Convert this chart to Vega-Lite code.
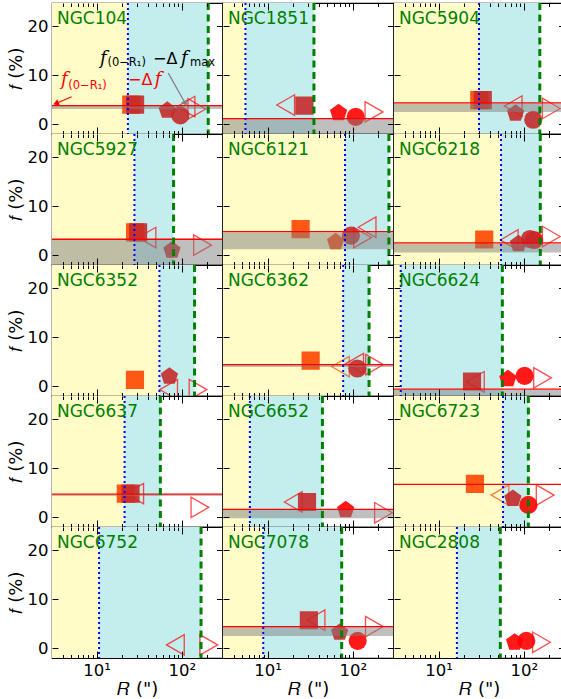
{
  "$schema": "https://vega.github.io/schema/vega-lite/v6.json",
  "background": "white",
  "padding": {"left": 6, "top": 0, "right": 0, "bottom": 0},
  "spacing": 0,
  "bounds": "flush",
  "columns": 3,
  "config": {
    "view": {"stroke": "#000000", "strokeWidth": 1.2},
    "axis": {"domain": false, "ticks": false, "grid": true, "gridColor": "#000000", "gridWidth": 1, "gridOpacity": 1, "labelFont": "DejaVu Sans", "labelFontSize": 16.5, "labelColor": "#000000", "labelPadding": 4, "titleFont": "DejaVu Sans", "titleFontSize": 18, "titleFontWeight": "normal", "titleColor": "#000000", "titlePadding": 2}
  },
  "datasets": {
    "zones": [
      {"cluster": "NGC104", "zone": "inner", "lo": 3, "hi": 23.3}, {"cluster": "NGC104", "zone": "outer", "lo": 23.3, "hi": 204},
      {"cluster": "NGC1851", "zone": "inner", "lo": 3, "hi": 5.5}, {"cluster": "NGC1851", "zone": "outer", "lo": 5.5, "hi": 35},
      {"cluster": "NGC5904", "zone": "inner", "lo": 3, "hi": 29.8}, {"cluster": "NGC5904", "zone": "outer", "lo": 29.8, "hi": 154},
      {"cluster": "NGC5927", "zone": "inner", "lo": 3, "hi": 27.8}, {"cluster": "NGC5927", "zone": "outer", "lo": 27.8, "hi": 80},
      {"cluster": "NGC6121", "zone": "inner", "lo": 3, "hi": 81}, {"cluster": "NGC6121", "zone": "outer", "lo": 81, "hi": 265},
      {"cluster": "NGC6218", "zone": "inner", "lo": 3, "hi": 54}, {"cluster": "NGC6218", "zone": "outer", "lo": 54, "hi": 156},
      {"cluster": "NGC6352", "zone": "inner", "lo": 3, "hi": 54.6}, {"cluster": "NGC6352", "zone": "outer", "lo": 54.6, "hi": 141},
      {"cluster": "NGC6362", "zone": "inner", "lo": 3, "hi": 77}, {"cluster": "NGC6362", "zone": "outer", "lo": 77, "hi": 155},
      {"cluster": "NGC6624", "zone": "inner", "lo": 3, "hi": 3.6}, {"cluster": "NGC6624", "zone": "outer", "lo": 3.6, "hi": 56},
      {"cluster": "NGC6637", "zone": "inner", "lo": 3, "hi": 21.3}, {"cluster": "NGC6637", "zone": "outer", "lo": 21.3, "hi": 56},
      {"cluster": "NGC6652", "zone": "inner", "lo": 3, "hi": 6.2}, {"cluster": "NGC6652", "zone": "outer", "lo": 6.2, "hi": 44},
      {"cluster": "NGC6723", "zone": "inner", "lo": 3, "hi": 57}, {"cluster": "NGC6723", "zone": "outer", "lo": 57, "hi": 113},
      {"cluster": "NGC6752", "zone": "inner", "lo": 3, "hi": 10.7}, {"cluster": "NGC6752", "zone": "outer", "lo": 10.7, "hi": 168},
      {"cluster": "NGC7078", "zone": "inner", "lo": 3, "hi": 8.9}, {"cluster": "NGC7078", "zone": "outer", "lo": 8.9, "hi": 74},
      {"cluster": "NGC2808", "zone": "inner", "lo": 3, "hi": 16.4}, {"cluster": "NGC2808", "zone": "outer", "lo": 16.4, "hi": 53}
    ],
    "levels": [
      {"cluster": "NGC104", "level": 3.8, "lo": 3.1, "hi": 3.75},
      {"cluster": "NGC1851", "level": 1.15, "lo": -2, "hi": 1.1},
      {"cluster": "NGC5904", "level": 4.35, "lo": 2.5, "hi": 4.2},
      {"cluster": "NGC5927", "level": 3.25, "lo": -2, "hi": 3.15},
      {"cluster": "NGC6121", "level": 4.8, "lo": 1.2, "hi": 4.6},
      {"cluster": "NGC6218", "level": 2.5, "lo": 0.55, "hi": 2.4},
      {"cluster": "NGC6362", "level": 4.4, "lo": 3.9, "hi": 4.3},
      {"cluster": "NGC6624", "level": -0.6, "lo": -2, "hi": -0.75},
      {"cluster": "NGC6637", "level": 4.7, "lo": 4.3, "hi": 4.6},
      {"cluster": "NGC6652", "level": 1.6, "lo": -0.2, "hi": 1.5},
      {"cluster": "NGC6723", "level": 6.7, "lo": null, "hi": null},
      {"cluster": "NGC7078", "level": 4.4, "lo": 2.5, "hi": 4.3}
    ],
    "marks": [
      {"cluster": "NGC104", "bin": "tl", "set": "C", "R": 112, "f": 3.6},
      {"cluster": "NGC104", "bin": "tr", "set": "C", "R": 150, "f": 3.1},
      {"cluster": "NGC104", "bin": "sq", "set": "A", "R": 25.5, "f": 4.0},
      {"cluster": "NGC104", "bin": "sq", "set": "B", "R": 28.3, "f": 4.0},
      {"cluster": "NGC104", "bin": "pent", "set": "B", "R": 67.5, "f": 2.8},
      {"cluster": "NGC104", "bin": "circ", "set": "B", "R": 96, "f": 1.8},
      {"cluster": "NGC1851", "bin": "tl", "set": "C", "R": 16.3, "f": 3.9},
      {"cluster": "NGC1851", "bin": "tr", "set": "C", "R": 177, "f": 2.5},
      {"cluster": "NGC1851", "bin": "sq", "set": "B", "R": 27, "f": 3.8},
      {"cluster": "NGC1851", "bin": "pent", "set": "C", "R": 68, "f": 2.3},
      {"cluster": "NGC1851", "bin": "circ", "set": "C", "R": 108, "f": 1.5},
      {"cluster": "NGC5904", "bin": "tl", "set": "C", "R": 75, "f": 3.7},
      {"cluster": "NGC5904", "bin": "tr", "set": "C", "R": 210, "f": 3.2},
      {"cluster": "NGC5904", "bin": "sq", "set": "A", "R": 30, "f": 4.9},
      {"cluster": "NGC5904", "bin": "sq", "set": "B", "R": 33, "f": 4.9},
      {"cluster": "NGC5904", "bin": "pent", "set": "B", "R": 80, "f": 2.2},
      {"cluster": "NGC5904", "bin": "circ", "set": "B", "R": 129, "f": 0.9},
      {"cluster": "NGC5927", "bin": "tl", "set": "C", "R": 39, "f": 3.6},
      {"cluster": "NGC5927", "bin": "tr", "set": "C", "R": 175, "f": 2.05},
      {"cluster": "NGC5927", "bin": "sq", "set": "A", "R": 28.3, "f": 4.65},
      {"cluster": "NGC5927", "bin": "sq", "set": "B", "R": 30.7, "f": 4.65},
      {"cluster": "NGC5927", "bin": "pent", "set": "B", "R": 76.6, "f": 1.0},
      {"cluster": "NGC6121", "bin": "tl", "set": "C", "R": 147, "f": 5.7},
      {"cluster": "NGC6121", "bin": "tr", "set": "C", "R": 130, "f": 3.6},
      {"cluster": "NGC6121", "bin": "sq", "set": "A", "R": 24.4, "f": 5.3},
      {"cluster": "NGC6121", "bin": "pent", "set": "A", "R": 62.7, "f": 2.7},
      {"cluster": "NGC6121", "bin": "circ", "set": "B", "R": 95, "f": 4.0},
      {"cluster": "NGC6218", "bin": "tl", "set": "C", "R": 67.5, "f": 3.1},
      {"cluster": "NGC6218", "bin": "tr", "set": "C", "R": 210, "f": 3.8},
      {"cluster": "NGC6218", "bin": "sq", "set": "A", "R": 34.3, "f": 3.2},
      {"cluster": "NGC6218", "bin": "circ", "set": "C", "R": 132, "f": 3.1},
      {"cluster": "NGC6218", "bin": "pent", "set": "B", "R": 86.5, "f": 2.3},
      {"cluster": "NGC6218", "bin": "circ", "set": "B", "R": 118, "f": 3.3},
      {"cluster": "NGC6352", "bin": "tl", "set": "C", "R": 70, "f": -0.7},
      {"cluster": "NGC6352", "bin": "tr", "set": "C", "R": 155, "f": -0.7},
      {"cluster": "NGC6352", "bin": "sq", "set": "A", "R": 28.2, "f": 1.3},
      {"cluster": "NGC6352", "bin": "pent", "set": "B", "R": 71.5, "f": 2.0},
      {"cluster": "NGC6362", "bin": "tl", "set": "A", "R": 71.5, "f": 4.0},
      {"cluster": "NGC6362", "bin": "tl", "set": "C", "R": 105, "f": 4.6},
      {"cluster": "NGC6362", "bin": "tr", "set": "C", "R": 180, "f": 4.4},
      {"cluster": "NGC6362", "bin": "sq", "set": "A", "R": 32, "f": 5.2},
      {"cluster": "NGC6362", "bin": "circ", "set": "B", "R": 113, "f": 3.6},
      {"cluster": "NGC6624", "bin": "tl", "set": "C", "R": 27, "f": 0.9},
      {"cluster": "NGC6624", "bin": "tr", "set": "C", "R": 166, "f": 1.7},
      {"cluster": "NGC6624", "bin": "sq", "set": "B", "R": 24.7, "f": 0.95},
      {"cluster": "NGC6624", "bin": "pent", "set": "C", "R": 65, "f": 1.5},
      {"cluster": "NGC6624", "bin": "circ", "set": "C", "R": 102, "f": 2.1},
      {"cluster": "NGC6637", "bin": "tl", "set": "C", "R": 28, "f": 4.8},
      {"cluster": "NGC6637", "bin": "tr", "set": "C", "R": 163, "f": 2.0},
      {"cluster": "NGC6637", "bin": "sq", "set": "A", "R": 22, "f": 4.8},
      {"cluster": "NGC6637", "bin": "sq", "set": "B", "R": 25, "f": 4.8},
      {"cluster": "NGC6652", "bin": "tl", "set": "C", "R": 20, "f": 3.1},
      {"cluster": "NGC6652", "bin": "tr", "set": "C", "R": 229, "f": 0.9},
      {"cluster": "NGC6652", "bin": "sq", "set": "B", "R": 29, "f": 3.1},
      {"cluster": "NGC6652", "bin": "pent", "set": "C", "R": 82.5, "f": 1.5},
      {"cluster": "NGC6723", "bin": "tl", "set": "A", "R": 52.5, "f": 4.5},
      {"cluster": "NGC6723", "bin": "tr", "set": "C", "R": 178, "f": 4.5},
      {"cluster": "NGC6723", "bin": "sq", "set": "A", "R": 26.7, "f": 6.8},
      {"cluster": "NGC6723", "bin": "pent", "set": "B", "R": 74.4, "f": 3.8},
      {"cluster": "NGC6723", "bin": "circ", "set": "C", "R": 113, "f": 2.5},
      {"cluster": "NGC6752", "bin": "tl", "set": "C", "R": 84, "f": 0.67},
      {"cluster": "NGC6752", "bin": "tr", "set": "C", "R": 207, "f": 0.67},
      {"cluster": "NGC7078", "bin": "tl", "set": "C", "R": 37, "f": 5.7},
      {"cluster": "NGC7078", "bin": "tr", "set": "C", "R": 179, "f": 4.4},
      {"cluster": "NGC7078", "bin": "sq", "set": "B", "R": 30.5, "f": 5.7},
      {"cluster": "NGC7078", "bin": "pent", "set": "B", "R": 70, "f": 3.2},
      {"cluster": "NGC7078", "bin": "circ", "set": "C", "R": 114, "f": 1.5},
      {"cluster": "NGC2808", "bin": "tr", "set": "C", "R": 161, "f": 1.2},
      {"cluster": "NGC2808", "bin": "pent", "set": "C", "R": 78, "f": 1.2},
      {"cluster": "NGC2808", "bin": "circ", "set": "C", "R": 107, "f": 1.5}
    ],
    "notes": [
      {"tone": "dark", "part": "it", "R": 11.0, "f": 12.3, "text": "f"},
      {"tone": "dark", "part": "sub", "R": 13.4, "f": 11.8, "text": "(0−R₁)"},
      {"tone": "dark", "part": "up", "R": 46, "f": 12.3, "text": "−Δ"},
      {"tone": "dark", "part": "it", "R": 98, "f": 12.3, "text": "f"},
      {"tone": "dark", "part": "sub", "R": 125, "f": 11.8, "text": "max"},
      {"tone": "red", "part": "it", "R": 3.83, "f": 7.9, "text": "f"},
      {"tone": "red", "part": "sub", "R": 4.65, "f": 7.1, "text": "(0−R₁)"},
      {"tone": "red", "part": "up", "R": 23.4, "f": 7.9, "text": "−Δ"},
      {"tone": "red", "part": "it", "R": 48, "f": 7.9, "text": "f"}
    ],
    "arrows": [
      {"tone": "dark", "R": 69.4, "f": 10.4, "R2": 110, "f2": 4.2},
      {"tone": "red", "R": 5.09, "f": 5.6, "R2": 3.34, "f2": 4.23}
    ]
  },
  "concat": [
    {"width": 170.5, "height": 131, "layer": [
      {"data": {"name": "zones"}, "transform": [{"filter": "datum.cluster == 'NGC104' && datum.zone == 'inner'"}], "mark": {"type": "rect", "fill": "#fffcc8", "clip": true}, "encoding": {"x": {"field": "lo", "type": "quantitative", "scale": {"type": "log", "domain": [3, 300], "nice": false}, "axis": {"values": [4,5,6,7,8,9,10,20,30,40,50,60,70,80,90,100,200], "gridDash": {"condition": {"test": "datum.value == 10 || datum.value == 100", "value": [7, 117, 7]}, "value": [3.5, 124, 3.5]}, "labels": false, "title": null, "zindex": 1}}, "x2": {"field": "hi"}}},
      {"data": {"name": "zones"}, "transform": [{"filter": "datum.cluster == 'NGC104' && datum.zone == 'outer'"}], "mark": {"type": "rect", "fill": "#c4eeee", "clip": true}, "encoding": {"x": {"field": "lo", "type": "quantitative", "scale": {"type": "log", "domain": [3, 300], "nice": false}}, "x2": {"field": "hi"}}},
      {"data": {"name": "marks"}, "transform": [{"filter": "datum.cluster == 'NGC104' && (datum.bin == 'tl' || datum.bin == 'tr')"}], "mark": {"type": "point", "filled": false, "size": 420, "strokeWidth": 1.3, "clip": true}, "encoding": {"x": {"field": "R", "type": "quantitative", "scale": {"type": "log", "domain": [3, 300], "nice": false}}, "y": {"field": "f", "type": "quantitative", "scale": {"domain": [-2, 24.7], "nice": false, "zero": false}}, "shape": {"field": "bin", "type": "nominal", "scale": {"domain": ["sq", "pent", "circ", "tl", "tr"], "range": ["square", "M0,-1L0.951,-0.309L0.588,0.809L-0.588,0.809L-0.951,-0.309Z", "circle", "triangle-left", "triangle-right"]}, "legend": null}, "color": {"field": "set", "type": "nominal", "scale": {"domain": ["A", "B", "C"], "range": ["#ff4500", "#c42a2a", "#ff0000"]}, "legend": null}}},
      {"data": {"name": "marks"}, "transform": [{"filter": "datum.cluster == 'NGC104' && datum.bin != 'tl' && datum.bin != 'tr'"}], "mark": {"type": "point", "filled": true, "size": 330, "opacity": 0.9, "strokeWidth": 0, "clip": true}, "encoding": {"x": {"field": "R", "type": "quantitative", "scale": {"type": "log", "domain": [3, 300], "nice": false}}, "y": {"field": "f", "type": "quantitative", "scale": {"domain": [-2, 24.7], "nice": false, "zero": false}, "axis": {"values": [0, 5, 10, 15, 20], "gridDash": [6, 158.5, 6], "title": "𝑓 (%)", "zindex": 1}}, "shape": {"field": "bin", "type": "nominal", "scale": {"domain": ["sq", "pent", "circ", "tl", "tr"], "range": ["square", "M0,-1L0.951,-0.309L0.588,0.809L-0.588,0.809L-0.951,-0.309Z", "circle", "triangle-left", "triangle-right"]}, "legend": null}, "color": {"field": "set", "type": "nominal", "scale": {"domain": ["A", "B", "C"], "range": ["#ff4500", "#c42a2a", "#ff0000"]}, "legend": null}}},
      {"data": {"name": "levels"}, "transform": [{"filter": "datum.cluster == 'NGC104' && isValid(datum.lo)"}], "mark": {"type": "rect", "fill": "#808080", "opacity": 0.5, "clip": true}, "encoding": {"y": {"field": "lo", "type": "quantitative", "scale": {"domain": [-2, 24.7], "nice": false, "zero": false}}, "y2": {"field": "hi"}}},
      {"data": {"name": "levels"}, "transform": [{"filter": "datum.cluster == 'NGC104'"}], "mark": {"type": "rule", "color": "#ff0000", "strokeWidth": 1.3}, "encoding": {"y": {"field": "level", "type": "quantitative", "scale": {"domain": [-2, 24.7], "nice": false, "zero": false}}}},
      {"data": {"name": "zones"}, "transform": [{"filter": "datum.cluster == 'NGC104' && datum.zone == 'outer'"}], "mark": {"type": "rule", "color": "#0000ff", "strokeWidth": 2, "strokeDash": [2, 3]}, "encoding": {"x": {"field": "lo", "type": "quantitative", "scale": {"type": "log", "domain": [3, 300], "nice": false}}}},
      {"data": {"name": "zones"}, "transform": [{"filter": "datum.cluster == 'NGC104' && datum.zone == 'outer'"}], "mark": {"type": "rule", "color": "#008000", "strokeWidth": 3, "strokeDash": [7, 4.5]}, "encoding": {"x": {"field": "hi", "type": "quantitative", "scale": {"type": "log", "domain": [3, 300], "nice": false}}}},
      {"data": {"name": "zones"}, "transform": [{"filter": "datum.cluster == 'NGC104' && datum.zone == 'outer'"}], "mark": {"type": "text", "align": "left", "baseline": "middle", "font": "DejaVu Sans", "fontSize": 17, "color": "#008000"}, "encoding": {"x": {"datum": 3.43, "type": "quantitative", "scale": {"type": "log", "domain": [3, 300], "nice": false}}, "y": {"datum": 21.4, "type": "quantitative", "scale": {"domain": [-2, 24.7], "nice": false, "zero": false}}, "text": {"field": "cluster"}}},
      {"data": {"name": "arrows"}, "transform": [{"filter": "datum.tone == 'dark'"}], "mark": {"type": "rule", "color": "#808080", "strokeWidth": 1.2}, "encoding": {"x": {"field": "R", "type": "quantitative", "scale": {"type": "log", "domain": [3, 300], "nice": false}}, "y": {"field": "f", "type": "quantitative", "scale": {"domain": [-2, 24.7], "nice": false, "zero": false}}, "x2": {"field": "R2"}, "y2": {"field": "f2"}}},
      {"data": {"name": "arrows"}, "transform": [{"filter": "datum.tone == 'red'"}], "mark": {"type": "rule", "color": "#ff0000", "strokeWidth": 1.2}, "encoding": {"x": {"field": "R", "type": "quantitative", "scale": {"type": "log", "domain": [3, 300], "nice": false}}, "y": {"field": "f", "type": "quantitative", "scale": {"domain": [-2, 24.7], "nice": false, "zero": false}}, "x2": {"field": "R2"}, "y2": {"field": "f2"}}},
      {"data": {"name": "arrows"}, "transform": [{"filter": "datum.tone == 'dark'"}], "mark": {"type": "point", "shape": "triangle-up", "filled": true, "size": 45, "angle": 150, "color": "#808080", "opacity": 1}, "encoding": {"x": {"field": "R2", "type": "quantitative", "scale": {"type": "log", "domain": [3, 300], "nice": false}}, "y": {"field": "f2", "type": "quantitative", "scale": {"domain": [-2, 24.7], "nice": false, "zero": false}}}},
      {"data": {"name": "arrows"}, "transform": [{"filter": "datum.tone == 'red'"}], "mark": {"type": "point", "shape": "triangle-up", "filled": true, "size": 45, "angle": 247, "color": "#ff0000", "opacity": 1}, "encoding": {"x": {"field": "R2", "type": "quantitative", "scale": {"type": "log", "domain": [3, 300], "nice": false}}, "y": {"field": "f2", "type": "quantitative", "scale": {"domain": [-2, 24.7], "nice": false, "zero": false}}}},
      {"data": {"name": "notes"}, "transform": [{"filter": "datum.tone == 'dark' && datum.part == 'it'"}], "mark": {"type": "text", "align": "left", "baseline": "alphabetic", "font": "DejaVu Serif", "fontStyle": "italic", "fontSize": 18, "color": "#000000"}, "encoding": {"x": {"field": "R", "type": "quantitative", "scale": {"type": "log", "domain": [3, 300], "nice": false}}, "y": {"field": "f", "type": "quantitative", "scale": {"domain": [-2, 24.7], "nice": false, "zero": false}}, "text": {"field": "text"}}},
      {"data": {"name": "notes"}, "transform": [{"filter": "datum.tone == 'dark' && datum.part == 'up'"}], "mark": {"type": "text", "align": "left", "baseline": "alphabetic", "font": "DejaVu Sans", "fontSize": 16, "color": "#000000"}, "encoding": {"x": {"field": "R", "type": "quantitative", "scale": {"type": "log", "domain": [3, 300], "nice": false}}, "y": {"field": "f", "type": "quantitative", "scale": {"domain": [-2, 24.7], "nice": false, "zero": false}}, "text": {"field": "text"}}},
      {"data": {"name": "notes"}, "transform": [{"filter": "datum.tone == 'dark' && datum.part == 'sub'"}], "mark": {"type": "text", "align": "left", "baseline": "alphabetic", "font": "DejaVu Sans", "fontSize": 11.5, "color": "#000000"}, "encoding": {"x": {"field": "R", "type": "quantitative", "scale": {"type": "log", "domain": [3, 300], "nice": false}}, "y": {"field": "f", "type": "quantitative", "scale": {"domain": [-2, 24.7], "nice": false, "zero": false}}, "text": {"field": "text"}}},
      {"data": {"name": "notes"}, "transform": [{"filter": "datum.tone == 'red' && datum.part == 'it'"}], "mark": {"type": "text", "align": "left", "baseline": "alphabetic", "font": "DejaVu Serif", "fontStyle": "italic", "fontSize": 18, "color": "#ff0000"}, "encoding": {"x": {"field": "R", "type": "quantitative", "scale": {"type": "log", "domain": [3, 300], "nice": false}}, "y": {"field": "f", "type": "quantitative", "scale": {"domain": [-2, 24.7], "nice": false, "zero": false}}, "text": {"field": "text"}}},
      {"data": {"name": "notes"}, "transform": [{"filter": "datum.tone == 'red' && datum.part == 'up'"}], "mark": {"type": "text", "align": "left", "baseline": "alphabetic", "font": "DejaVu Sans", "fontSize": 16, "color": "#ff0000"}, "encoding": {"x": {"field": "R", "type": "quantitative", "scale": {"type": "log", "domain": [3, 300], "nice": false}}, "y": {"field": "f", "type": "quantitative", "scale": {"domain": [-2, 24.7], "nice": false, "zero": false}}, "text": {"field": "text"}}},
      {"data": {"name": "notes"}, "transform": [{"filter": "datum.tone == 'red' && datum.part == 'sub'"}], "mark": {"type": "text", "align": "left", "baseline": "alphabetic", "font": "DejaVu Sans", "fontSize": 11.5, "color": "#ff0000"}, "encoding": {"x": {"field": "R", "type": "quantitative", "scale": {"type": "log", "domain": [3, 300], "nice": false}}, "y": {"field": "f", "type": "quantitative", "scale": {"domain": [-2, 24.7], "nice": false, "zero": false}}, "text": {"field": "text"}}}
    ]},
    {"width": 170.5, "height": 131, "layer": [
      {"data": {"name": "zones"}, "transform": [{"filter": "datum.cluster == 'NGC1851' && datum.zone == 'inner'"}], "mark": {"type": "rect", "fill": "#fffcc8", "clip": true}, "encoding": {"x": {"field": "lo", "type": "quantitative", "scale": {"type": "log", "domain": [3, 300], "nice": false}, "axis": {"values": [4,5,6,7,8,9,10,20,30,40,50,60,70,80,90,100,200], "gridDash": {"condition": {"test": "datum.value == 10 || datum.value == 100", "value": [7, 117, 7]}, "value": [3.5, 124, 3.5]}, "labels": false, "title": null, "zindex": 1}}, "x2": {"field": "hi"}}},
      {"data": {"name": "zones"}, "transform": [{"filter": "datum.cluster == 'NGC1851' && datum.zone == 'outer'"}], "mark": {"type": "rect", "fill": "#c4eeee", "clip": true}, "encoding": {"x": {"field": "lo", "type": "quantitative", "scale": {"type": "log", "domain": [3, 300], "nice": false}}, "x2": {"field": "hi"}}},
      {"data": {"name": "marks"}, "transform": [{"filter": "datum.cluster == 'NGC1851' && (datum.bin == 'tl' || datum.bin == 'tr')"}], "mark": {"type": "point", "filled": false, "size": 420, "strokeWidth": 1.3, "clip": true}, "encoding": {"x": {"field": "R", "type": "quantitative", "scale": {"type": "log", "domain": [3, 300], "nice": false}}, "y": {"field": "f", "type": "quantitative", "scale": {"domain": [-2, 24.7], "nice": false, "zero": false}}, "shape": {"field": "bin", "type": "nominal", "scale": {"domain": ["sq", "pent", "circ", "tl", "tr"], "range": ["square", "M0,-1L0.951,-0.309L0.588,0.809L-0.588,0.809L-0.951,-0.309Z", "circle", "triangle-left", "triangle-right"]}, "legend": null}, "color": {"field": "set", "type": "nominal", "scale": {"domain": ["A", "B", "C"], "range": ["#ff4500", "#c42a2a", "#ff0000"]}, "legend": null}}},
      {"data": {"name": "marks"}, "transform": [{"filter": "datum.cluster == 'NGC1851' && datum.bin != 'tl' && datum.bin != 'tr'"}], "mark": {"type": "point", "filled": true, "size": 330, "opacity": 0.9, "strokeWidth": 0, "clip": true}, "encoding": {"x": {"field": "R", "type": "quantitative", "scale": {"type": "log", "domain": [3, 300], "nice": false}}, "y": {"field": "f", "type": "quantitative", "scale": {"domain": [-2, 24.7], "nice": false, "zero": false}, "axis": {"values": [0, 5, 10, 15, 20], "gridDash": [6, 158.5, 6], "labels": false, "title": null, "zindex": 1}}, "shape": {"field": "bin", "type": "nominal", "scale": {"domain": ["sq", "pent", "circ", "tl", "tr"], "range": ["square", "M0,-1L0.951,-0.309L0.588,0.809L-0.588,0.809L-0.951,-0.309Z", "circle", "triangle-left", "triangle-right"]}, "legend": null}, "color": {"field": "set", "type": "nominal", "scale": {"domain": ["A", "B", "C"], "range": ["#ff4500", "#c42a2a", "#ff0000"]}, "legend": null}}},
      {"data": {"name": "levels"}, "transform": [{"filter": "datum.cluster == 'NGC1851' && isValid(datum.lo)"}], "mark": {"type": "rect", "fill": "#808080", "opacity": 0.5, "clip": true}, "encoding": {"y": {"field": "lo", "type": "quantitative", "scale": {"domain": [-2, 24.7], "nice": false, "zero": false}}, "y2": {"field": "hi"}}},
      {"data": {"name": "levels"}, "transform": [{"filter": "datum.cluster == 'NGC1851'"}], "mark": {"type": "rule", "color": "#ff0000", "strokeWidth": 1.3}, "encoding": {"y": {"field": "level", "type": "quantitative", "scale": {"domain": [-2, 24.7], "nice": false, "zero": false}}}},
      {"data": {"name": "zones"}, "transform": [{"filter": "datum.cluster == 'NGC1851' && datum.zone == 'outer'"}], "mark": {"type": "rule", "color": "#0000ff", "strokeWidth": 2, "strokeDash": [2, 3]}, "encoding": {"x": {"field": "lo", "type": "quantitative", "scale": {"type": "log", "domain": [3, 300], "nice": false}}}},
      {"data": {"name": "zones"}, "transform": [{"filter": "datum.cluster == 'NGC1851' && datum.zone == 'outer'"}], "mark": {"type": "rule", "color": "#008000", "strokeWidth": 3, "strokeDash": [7, 4.5]}, "encoding": {"x": {"field": "hi", "type": "quantitative", "scale": {"type": "log", "domain": [3, 300], "nice": false}}}},
      {"data": {"name": "zones"}, "transform": [{"filter": "datum.cluster == 'NGC1851' && datum.zone == 'outer'"}], "mark": {"type": "text", "align": "left", "baseline": "middle", "font": "DejaVu Sans", "fontSize": 17, "color": "#008000"}, "encoding": {"x": {"datum": 3.43, "type": "quantitative", "scale": {"type": "log", "domain": [3, 300], "nice": false}}, "y": {"datum": 21.4, "type": "quantitative", "scale": {"domain": [-2, 24.7], "nice": false, "zero": false}}, "text": {"field": "cluster"}}}
    ]},
    {"width": 170.5, "height": 131, "layer": [
      {"data": {"name": "zones"}, "transform": [{"filter": "datum.cluster == 'NGC5904' && datum.zone == 'inner'"}], "mark": {"type": "rect", "fill": "#fffcc8", "clip": true}, "encoding": {"x": {"field": "lo", "type": "quantitative", "scale": {"type": "log", "domain": [3, 300], "nice": false}, "axis": {"values": [4,5,6,7,8,9,10,20,30,40,50,60,70,80,90,100,200], "gridDash": {"condition": {"test": "datum.value == 10 || datum.value == 100", "value": [7, 117, 7]}, "value": [3.5, 124, 3.5]}, "labels": false, "title": null, "zindex": 1}}, "x2": {"field": "hi"}}},
      {"data": {"name": "zones"}, "transform": [{"filter": "datum.cluster == 'NGC5904' && datum.zone == 'outer'"}], "mark": {"type": "rect", "fill": "#c4eeee", "clip": true}, "encoding": {"x": {"field": "lo", "type": "quantitative", "scale": {"type": "log", "domain": [3, 300], "nice": false}}, "x2": {"field": "hi"}}},
      {"data": {"name": "marks"}, "transform": [{"filter": "datum.cluster == 'NGC5904' && (datum.bin == 'tl' || datum.bin == 'tr')"}], "mark": {"type": "point", "filled": false, "size": 420, "strokeWidth": 1.3, "clip": true}, "encoding": {"x": {"field": "R", "type": "quantitative", "scale": {"type": "log", "domain": [3, 300], "nice": false}}, "y": {"field": "f", "type": "quantitative", "scale": {"domain": [-2, 24.7], "nice": false, "zero": false}}, "shape": {"field": "bin", "type": "nominal", "scale": {"domain": ["sq", "pent", "circ", "tl", "tr"], "range": ["square", "M0,-1L0.951,-0.309L0.588,0.809L-0.588,0.809L-0.951,-0.309Z", "circle", "triangle-left", "triangle-right"]}, "legend": null}, "color": {"field": "set", "type": "nominal", "scale": {"domain": ["A", "B", "C"], "range": ["#ff4500", "#c42a2a", "#ff0000"]}, "legend": null}}},
      {"data": {"name": "marks"}, "transform": [{"filter": "datum.cluster == 'NGC5904' && datum.bin != 'tl' && datum.bin != 'tr'"}], "mark": {"type": "point", "filled": true, "size": 330, "opacity": 0.9, "strokeWidth": 0, "clip": true}, "encoding": {"x": {"field": "R", "type": "quantitative", "scale": {"type": "log", "domain": [3, 300], "nice": false}}, "y": {"field": "f", "type": "quantitative", "scale": {"domain": [-2, 24.7], "nice": false, "zero": false}, "axis": {"values": [0, 5, 10, 15, 20], "gridDash": [6, 158.5, 6], "labels": false, "title": null, "zindex": 1}}, "shape": {"field": "bin", "type": "nominal", "scale": {"domain": ["sq", "pent", "circ", "tl", "tr"], "range": ["square", "M0,-1L0.951,-0.309L0.588,0.809L-0.588,0.809L-0.951,-0.309Z", "circle", "triangle-left", "triangle-right"]}, "legend": null}, "color": {"field": "set", "type": "nominal", "scale": {"domain": ["A", "B", "C"], "range": ["#ff4500", "#c42a2a", "#ff0000"]}, "legend": null}}},
      {"data": {"name": "levels"}, "transform": [{"filter": "datum.cluster == 'NGC5904' && isValid(datum.lo)"}], "mark": {"type": "rect", "fill": "#808080", "opacity": 0.5, "clip": true}, "encoding": {"y": {"field": "lo", "type": "quantitative", "scale": {"domain": [-2, 24.7], "nice": false, "zero": false}}, "y2": {"field": "hi"}}},
      {"data": {"name": "levels"}, "transform": [{"filter": "datum.cluster == 'NGC5904'"}], "mark": {"type": "rule", "color": "#ff0000", "strokeWidth": 1.3}, "encoding": {"y": {"field": "level", "type": "quantitative", "scale": {"domain": [-2, 24.7], "nice": false, "zero": false}}}},
      {"data": {"name": "zones"}, "transform": [{"filter": "datum.cluster == 'NGC5904' && datum.zone == 'outer'"}], "mark": {"type": "rule", "color": "#0000ff", "strokeWidth": 2, "strokeDash": [2, 3]}, "encoding": {"x": {"field": "lo", "type": "quantitative", "scale": {"type": "log", "domain": [3, 300], "nice": false}}}},
      {"data": {"name": "zones"}, "transform": [{"filter": "datum.cluster == 'NGC5904' && datum.zone == 'outer'"}], "mark": {"type": "rule", "color": "#008000", "strokeWidth": 3, "strokeDash": [7, 4.5]}, "encoding": {"x": {"field": "hi", "type": "quantitative", "scale": {"type": "log", "domain": [3, 300], "nice": false}}}},
      {"data": {"name": "zones"}, "transform": [{"filter": "datum.cluster == 'NGC5904' && datum.zone == 'outer'"}], "mark": {"type": "text", "align": "left", "baseline": "middle", "font": "DejaVu Sans", "fontSize": 17, "color": "#008000"}, "encoding": {"x": {"datum": 3.43, "type": "quantitative", "scale": {"type": "log", "domain": [3, 300], "nice": false}}, "y": {"datum": 21.4, "type": "quantitative", "scale": {"domain": [-2, 24.7], "nice": false, "zero": false}}, "text": {"field": "cluster"}}}
    ]},
    {"width": 170.5, "height": 131, "layer": [
      {"data": {"name": "zones"}, "transform": [{"filter": "datum.cluster == 'NGC5927' && datum.zone == 'inner'"}], "mark": {"type": "rect", "fill": "#fffcc8", "clip": true}, "encoding": {"x": {"field": "lo", "type": "quantitative", "scale": {"type": "log", "domain": [3, 300], "nice": false}, "axis": {"values": [4,5,6,7,8,9,10,20,30,40,50,60,70,80,90,100,200], "gridDash": {"condition": {"test": "datum.value == 10 || datum.value == 100", "value": [7, 117, 7]}, "value": [3.5, 124, 3.5]}, "labels": false, "title": null, "zindex": 1}}, "x2": {"field": "hi"}}},
      {"data": {"name": "zones"}, "transform": [{"filter": "datum.cluster == 'NGC5927' && datum.zone == 'outer'"}], "mark": {"type": "rect", "fill": "#c4eeee", "clip": true}, "encoding": {"x": {"field": "lo", "type": "quantitative", "scale": {"type": "log", "domain": [3, 300], "nice": false}}, "x2": {"field": "hi"}}},
      {"data": {"name": "marks"}, "transform": [{"filter": "datum.cluster == 'NGC5927' && (datum.bin == 'tl' || datum.bin == 'tr')"}], "mark": {"type": "point", "filled": false, "size": 420, "strokeWidth": 1.3, "clip": true}, "encoding": {"x": {"field": "R", "type": "quantitative", "scale": {"type": "log", "domain": [3, 300], "nice": false}}, "y": {"field": "f", "type": "quantitative", "scale": {"domain": [-2, 24.7], "nice": false, "zero": false}}, "shape": {"field": "bin", "type": "nominal", "scale": {"domain": ["sq", "pent", "circ", "tl", "tr"], "range": ["square", "M0,-1L0.951,-0.309L0.588,0.809L-0.588,0.809L-0.951,-0.309Z", "circle", "triangle-left", "triangle-right"]}, "legend": null}, "color": {"field": "set", "type": "nominal", "scale": {"domain": ["A", "B", "C"], "range": ["#ff4500", "#c42a2a", "#ff0000"]}, "legend": null}}},
      {"data": {"name": "marks"}, "transform": [{"filter": "datum.cluster == 'NGC5927' && datum.bin != 'tl' && datum.bin != 'tr'"}], "mark": {"type": "point", "filled": true, "size": 330, "opacity": 0.9, "strokeWidth": 0, "clip": true}, "encoding": {"x": {"field": "R", "type": "quantitative", "scale": {"type": "log", "domain": [3, 300], "nice": false}}, "y": {"field": "f", "type": "quantitative", "scale": {"domain": [-2, 24.7], "nice": false, "zero": false}, "axis": {"values": [0, 5, 10, 15, 20], "gridDash": [6, 158.5, 6], "title": "𝑓 (%)", "zindex": 1}}, "shape": {"field": "bin", "type": "nominal", "scale": {"domain": ["sq", "pent", "circ", "tl", "tr"], "range": ["square", "M0,-1L0.951,-0.309L0.588,0.809L-0.588,0.809L-0.951,-0.309Z", "circle", "triangle-left", "triangle-right"]}, "legend": null}, "color": {"field": "set", "type": "nominal", "scale": {"domain": ["A", "B", "C"], "range": ["#ff4500", "#c42a2a", "#ff0000"]}, "legend": null}}},
      {"data": {"name": "levels"}, "transform": [{"filter": "datum.cluster == 'NGC5927' && isValid(datum.lo)"}], "mark": {"type": "rect", "fill": "#808080", "opacity": 0.5, "clip": true}, "encoding": {"y": {"field": "lo", "type": "quantitative", "scale": {"domain": [-2, 24.7], "nice": false, "zero": false}}, "y2": {"field": "hi"}}},
      {"data": {"name": "levels"}, "transform": [{"filter": "datum.cluster == 'NGC5927'"}], "mark": {"type": "rule", "color": "#ff0000", "strokeWidth": 1.3}, "encoding": {"y": {"field": "level", "type": "quantitative", "scale": {"domain": [-2, 24.7], "nice": false, "zero": false}}}},
      {"data": {"name": "zones"}, "transform": [{"filter": "datum.cluster == 'NGC5927' && datum.zone == 'outer'"}], "mark": {"type": "rule", "color": "#0000ff", "strokeWidth": 2, "strokeDash": [2, 3]}, "encoding": {"x": {"field": "lo", "type": "quantitative", "scale": {"type": "log", "domain": [3, 300], "nice": false}}}},
      {"data": {"name": "zones"}, "transform": [{"filter": "datum.cluster == 'NGC5927' && datum.zone == 'outer'"}], "mark": {"type": "rule", "color": "#008000", "strokeWidth": 3, "strokeDash": [7, 4.5]}, "encoding": {"x": {"field": "hi", "type": "quantitative", "scale": {"type": "log", "domain": [3, 300], "nice": false}}}},
      {"data": {"name": "zones"}, "transform": [{"filter": "datum.cluster == 'NGC5927' && datum.zone == 'outer'"}], "mark": {"type": "text", "align": "left", "baseline": "middle", "font": "DejaVu Sans", "fontSize": 17, "color": "#008000"}, "encoding": {"x": {"datum": 3.43, "type": "quantitative", "scale": {"type": "log", "domain": [3, 300], "nice": false}}, "y": {"datum": 21.4, "type": "quantitative", "scale": {"domain": [-2, 24.7], "nice": false, "zero": false}}, "text": {"field": "cluster"}}}
    ]},
    {"width": 170.5, "height": 131, "layer": [
      {"data": {"name": "zones"}, "transform": [{"filter": "datum.cluster == 'NGC6121' && datum.zone == 'inner'"}], "mark": {"type": "rect", "fill": "#fffcc8", "clip": true}, "encoding": {"x": {"field": "lo", "type": "quantitative", "scale": {"type": "log", "domain": [3, 300], "nice": false}, "axis": {"values": [4,5,6,7,8,9,10,20,30,40,50,60,70,80,90,100,200], "gridDash": {"condition": {"test": "datum.value == 10 || datum.value == 100", "value": [7, 117, 7]}, "value": [3.5, 124, 3.5]}, "labels": false, "title": null, "zindex": 1}}, "x2": {"field": "hi"}}},
      {"data": {"name": "zones"}, "transform": [{"filter": "datum.cluster == 'NGC6121' && datum.zone == 'outer'"}], "mark": {"type": "rect", "fill": "#c4eeee", "clip": true}, "encoding": {"x": {"field": "lo", "type": "quantitative", "scale": {"type": "log", "domain": [3, 300], "nice": false}}, "x2": {"field": "hi"}}},
      {"data": {"name": "marks"}, "transform": [{"filter": "datum.cluster == 'NGC6121' && (datum.bin == 'tl' || datum.bin == 'tr')"}], "mark": {"type": "point", "filled": false, "size": 420, "strokeWidth": 1.3, "clip": true}, "encoding": {"x": {"field": "R", "type": "quantitative", "scale": {"type": "log", "domain": [3, 300], "nice": false}}, "y": {"field": "f", "type": "quantitative", "scale": {"domain": [-2, 24.7], "nice": false, "zero": false}}, "shape": {"field": "bin", "type": "nominal", "scale": {"domain": ["sq", "pent", "circ", "tl", "tr"], "range": ["square", "M0,-1L0.951,-0.309L0.588,0.809L-0.588,0.809L-0.951,-0.309Z", "circle", "triangle-left", "triangle-right"]}, "legend": null}, "color": {"field": "set", "type": "nominal", "scale": {"domain": ["A", "B", "C"], "range": ["#ff4500", "#c42a2a", "#ff0000"]}, "legend": null}}},
      {"data": {"name": "marks"}, "transform": [{"filter": "datum.cluster == 'NGC6121' && datum.bin != 'tl' && datum.bin != 'tr'"}], "mark": {"type": "point", "filled": true, "size": 330, "opacity": 0.9, "strokeWidth": 0, "clip": true}, "encoding": {"x": {"field": "R", "type": "quantitative", "scale": {"type": "log", "domain": [3, 300], "nice": false}}, "y": {"field": "f", "type": "quantitative", "scale": {"domain": [-2, 24.7], "nice": false, "zero": false}, "axis": {"values": [0, 5, 10, 15, 20], "gridDash": [6, 158.5, 6], "labels": false, "title": null, "zindex": 1}}, "shape": {"field": "bin", "type": "nominal", "scale": {"domain": ["sq", "pent", "circ", "tl", "tr"], "range": ["square", "M0,-1L0.951,-0.309L0.588,0.809L-0.588,0.809L-0.951,-0.309Z", "circle", "triangle-left", "triangle-right"]}, "legend": null}, "color": {"field": "set", "type": "nominal", "scale": {"domain": ["A", "B", "C"], "range": ["#ff4500", "#c42a2a", "#ff0000"]}, "legend": null}}},
      {"data": {"name": "levels"}, "transform": [{"filter": "datum.cluster == 'NGC6121' && isValid(datum.lo)"}], "mark": {"type": "rect", "fill": "#808080", "opacity": 0.5, "clip": true}, "encoding": {"y": {"field": "lo", "type": "quantitative", "scale": {"domain": [-2, 24.7], "nice": false, "zero": false}}, "y2": {"field": "hi"}}},
      {"data": {"name": "levels"}, "transform": [{"filter": "datum.cluster == 'NGC6121'"}], "mark": {"type": "rule", "color": "#ff0000", "strokeWidth": 1.3}, "encoding": {"y": {"field": "level", "type": "quantitative", "scale": {"domain": [-2, 24.7], "nice": false, "zero": false}}}},
      {"data": {"name": "zones"}, "transform": [{"filter": "datum.cluster == 'NGC6121' && datum.zone == 'outer'"}], "mark": {"type": "rule", "color": "#0000ff", "strokeWidth": 2, "strokeDash": [2, 3]}, "encoding": {"x": {"field": "lo", "type": "quantitative", "scale": {"type": "log", "domain": [3, 300], "nice": false}}}},
      {"data": {"name": "zones"}, "transform": [{"filter": "datum.cluster == 'NGC6121' && datum.zone == 'outer'"}], "mark": {"type": "rule", "color": "#008000", "strokeWidth": 3, "strokeDash": [7, 4.5]}, "encoding": {"x": {"field": "hi", "type": "quantitative", "scale": {"type": "log", "domain": [3, 300], "nice": false}}}},
      {"data": {"name": "zones"}, "transform": [{"filter": "datum.cluster == 'NGC6121' && datum.zone == 'outer'"}], "mark": {"type": "text", "align": "left", "baseline": "middle", "font": "DejaVu Sans", "fontSize": 17, "color": "#008000"}, "encoding": {"x": {"datum": 3.43, "type": "quantitative", "scale": {"type": "log", "domain": [3, 300], "nice": false}}, "y": {"datum": 21.4, "type": "quantitative", "scale": {"domain": [-2, 24.7], "nice": false, "zero": false}}, "text": {"field": "cluster"}}}
    ]},
    {"width": 170.5, "height": 131, "layer": [
      {"data": {"name": "zones"}, "transform": [{"filter": "datum.cluster == 'NGC6218' && datum.zone == 'inner'"}], "mark": {"type": "rect", "fill": "#fffcc8", "clip": true}, "encoding": {"x": {"field": "lo", "type": "quantitative", "scale": {"type": "log", "domain": [3, 300], "nice": false}, "axis": {"values": [4,5,6,7,8,9,10,20,30,40,50,60,70,80,90,100,200], "gridDash": {"condition": {"test": "datum.value == 10 || datum.value == 100", "value": [7, 117, 7]}, "value": [3.5, 124, 3.5]}, "labels": false, "title": null, "zindex": 1}}, "x2": {"field": "hi"}}},
      {"data": {"name": "zones"}, "transform": [{"filter": "datum.cluster == 'NGC6218' && datum.zone == 'outer'"}], "mark": {"type": "rect", "fill": "#c4eeee", "clip": true}, "encoding": {"x": {"field": "lo", "type": "quantitative", "scale": {"type": "log", "domain": [3, 300], "nice": false}}, "x2": {"field": "hi"}}},
      {"data": {"name": "marks"}, "transform": [{"filter": "datum.cluster == 'NGC6218' && (datum.bin == 'tl' || datum.bin == 'tr')"}], "mark": {"type": "point", "filled": false, "size": 420, "strokeWidth": 1.3, "clip": true}, "encoding": {"x": {"field": "R", "type": "quantitative", "scale": {"type": "log", "domain": [3, 300], "nice": false}}, "y": {"field": "f", "type": "quantitative", "scale": {"domain": [-2, 24.7], "nice": false, "zero": false}}, "shape": {"field": "bin", "type": "nominal", "scale": {"domain": ["sq", "pent", "circ", "tl", "tr"], "range": ["square", "M0,-1L0.951,-0.309L0.588,0.809L-0.588,0.809L-0.951,-0.309Z", "circle", "triangle-left", "triangle-right"]}, "legend": null}, "color": {"field": "set", "type": "nominal", "scale": {"domain": ["A", "B", "C"], "range": ["#ff4500", "#c42a2a", "#ff0000"]}, "legend": null}}},
      {"data": {"name": "marks"}, "transform": [{"filter": "datum.cluster == 'NGC6218' && datum.bin != 'tl' && datum.bin != 'tr'"}], "mark": {"type": "point", "filled": true, "size": 330, "opacity": 0.9, "strokeWidth": 0, "clip": true}, "encoding": {"x": {"field": "R", "type": "quantitative", "scale": {"type": "log", "domain": [3, 300], "nice": false}}, "y": {"field": "f", "type": "quantitative", "scale": {"domain": [-2, 24.7], "nice": false, "zero": false}, "axis": {"values": [0, 5, 10, 15, 20], "gridDash": [6, 158.5, 6], "labels": false, "title": null, "zindex": 1}}, "shape": {"field": "bin", "type": "nominal", "scale": {"domain": ["sq", "pent", "circ", "tl", "tr"], "range": ["square", "M0,-1L0.951,-0.309L0.588,0.809L-0.588,0.809L-0.951,-0.309Z", "circle", "triangle-left", "triangle-right"]}, "legend": null}, "color": {"field": "set", "type": "nominal", "scale": {"domain": ["A", "B", "C"], "range": ["#ff4500", "#c42a2a", "#ff0000"]}, "legend": null}}},
      {"data": {"name": "levels"}, "transform": [{"filter": "datum.cluster == 'NGC6218' && isValid(datum.lo)"}], "mark": {"type": "rect", "fill": "#808080", "opacity": 0.5, "clip": true}, "encoding": {"y": {"field": "lo", "type": "quantitative", "scale": {"domain": [-2, 24.7], "nice": false, "zero": false}}, "y2": {"field": "hi"}}},
      {"data": {"name": "levels"}, "transform": [{"filter": "datum.cluster == 'NGC6218'"}], "mark": {"type": "rule", "color": "#ff0000", "strokeWidth": 1.3}, "encoding": {"y": {"field": "level", "type": "quantitative", "scale": {"domain": [-2, 24.7], "nice": false, "zero": false}}}},
      {"data": {"name": "zones"}, "transform": [{"filter": "datum.cluster == 'NGC6218' && datum.zone == 'outer'"}], "mark": {"type": "rule", "color": "#0000ff", "strokeWidth": 2, "strokeDash": [2, 3]}, "encoding": {"x": {"field": "lo", "type": "quantitative", "scale": {"type": "log", "domain": [3, 300], "nice": false}}}},
      {"data": {"name": "zones"}, "transform": [{"filter": "datum.cluster == 'NGC6218' && datum.zone == 'outer'"}], "mark": {"type": "rule", "color": "#008000", "strokeWidth": 3, "strokeDash": [7, 4.5]}, "encoding": {"x": {"field": "hi", "type": "quantitative", "scale": {"type": "log", "domain": [3, 300], "nice": false}}}},
      {"data": {"name": "zones"}, "transform": [{"filter": "datum.cluster == 'NGC6218' && datum.zone == 'outer'"}], "mark": {"type": "text", "align": "left", "baseline": "middle", "font": "DejaVu Sans", "fontSize": 17, "color": "#008000"}, "encoding": {"x": {"datum": 3.43, "type": "quantitative", "scale": {"type": "log", "domain": [3, 300], "nice": false}}, "y": {"datum": 21.4, "type": "quantitative", "scale": {"domain": [-2, 24.7], "nice": false, "zero": false}}, "text": {"field": "cluster"}}}
    ]},
    {"width": 170.5, "height": 131, "layer": [
      {"data": {"name": "zones"}, "transform": [{"filter": "datum.cluster == 'NGC6352' && datum.zone == 'inner'"}], "mark": {"type": "rect", "fill": "#fffcc8", "clip": true}, "encoding": {"x": {"field": "lo", "type": "quantitative", "scale": {"type": "log", "domain": [3, 300], "nice": false}, "axis": {"values": [4,5,6,7,8,9,10,20,30,40,50,60,70,80,90,100,200], "gridDash": {"condition": {"test": "datum.value == 10 || datum.value == 100", "value": [7, 117, 7]}, "value": [3.5, 124, 3.5]}, "labels": false, "title": null, "zindex": 1}}, "x2": {"field": "hi"}}},
      {"data": {"name": "zones"}, "transform": [{"filter": "datum.cluster == 'NGC6352' && datum.zone == 'outer'"}], "mark": {"type": "rect", "fill": "#c4eeee", "clip": true}, "encoding": {"x": {"field": "lo", "type": "quantitative", "scale": {"type": "log", "domain": [3, 300], "nice": false}}, "x2": {"field": "hi"}}},
      {"data": {"name": "marks"}, "transform": [{"filter": "datum.cluster == 'NGC6352' && (datum.bin == 'tl' || datum.bin == 'tr')"}], "mark": {"type": "point", "filled": false, "size": 420, "strokeWidth": 1.3, "clip": true}, "encoding": {"x": {"field": "R", "type": "quantitative", "scale": {"type": "log", "domain": [3, 300], "nice": false}}, "y": {"field": "f", "type": "quantitative", "scale": {"domain": [-2, 24.7], "nice": false, "zero": false}}, "shape": {"field": "bin", "type": "nominal", "scale": {"domain": ["sq", "pent", "circ", "tl", "tr"], "range": ["square", "M0,-1L0.951,-0.309L0.588,0.809L-0.588,0.809L-0.951,-0.309Z", "circle", "triangle-left", "triangle-right"]}, "legend": null}, "color": {"field": "set", "type": "nominal", "scale": {"domain": ["A", "B", "C"], "range": ["#ff4500", "#c42a2a", "#ff0000"]}, "legend": null}}},
      {"data": {"name": "marks"}, "transform": [{"filter": "datum.cluster == 'NGC6352' && datum.bin != 'tl' && datum.bin != 'tr'"}], "mark": {"type": "point", "filled": true, "size": 330, "opacity": 0.9, "strokeWidth": 0, "clip": true}, "encoding": {"x": {"field": "R", "type": "quantitative", "scale": {"type": "log", "domain": [3, 300], "nice": false}}, "y": {"field": "f", "type": "quantitative", "scale": {"domain": [-2, 24.7], "nice": false, "zero": false}, "axis": {"values": [0, 5, 10, 15, 20], "gridDash": [6, 158.5, 6], "title": "𝑓 (%)", "zindex": 1}}, "shape": {"field": "bin", "type": "nominal", "scale": {"domain": ["sq", "pent", "circ", "tl", "tr"], "range": ["square", "M0,-1L0.951,-0.309L0.588,0.809L-0.588,0.809L-0.951,-0.309Z", "circle", "triangle-left", "triangle-right"]}, "legend": null}, "color": {"field": "set", "type": "nominal", "scale": {"domain": ["A", "B", "C"], "range": ["#ff4500", "#c42a2a", "#ff0000"]}, "legend": null}}},
      {"data": {"name": "zones"}, "transform": [{"filter": "datum.cluster == 'NGC6352' && datum.zone == 'outer'"}], "mark": {"type": "rule", "color": "#0000ff", "strokeWidth": 2, "strokeDash": [2, 3]}, "encoding": {"x": {"field": "lo", "type": "quantitative", "scale": {"type": "log", "domain": [3, 300], "nice": false}}}},
      {"data": {"name": "zones"}, "transform": [{"filter": "datum.cluster == 'NGC6352' && datum.zone == 'outer'"}], "mark": {"type": "rule", "color": "#008000", "strokeWidth": 3, "strokeDash": [7, 4.5]}, "encoding": {"x": {"field": "hi", "type": "quantitative", "scale": {"type": "log", "domain": [3, 300], "nice": false}}}},
      {"data": {"name": "zones"}, "transform": [{"filter": "datum.cluster == 'NGC6352' && datum.zone == 'outer'"}], "mark": {"type": "text", "align": "left", "baseline": "middle", "font": "DejaVu Sans", "fontSize": 17, "color": "#008000"}, "encoding": {"x": {"datum": 3.43, "type": "quantitative", "scale": {"type": "log", "domain": [3, 300], "nice": false}}, "y": {"datum": 21.4, "type": "quantitative", "scale": {"domain": [-2, 24.7], "nice": false, "zero": false}}, "text": {"field": "cluster"}}}
    ]},
    {"width": 170.5, "height": 131, "layer": [
      {"data": {"name": "zones"}, "transform": [{"filter": "datum.cluster == 'NGC6362' && datum.zone == 'inner'"}], "mark": {"type": "rect", "fill": "#fffcc8", "clip": true}, "encoding": {"x": {"field": "lo", "type": "quantitative", "scale": {"type": "log", "domain": [3, 300], "nice": false}, "axis": {"values": [4,5,6,7,8,9,10,20,30,40,50,60,70,80,90,100,200], "gridDash": {"condition": {"test": "datum.value == 10 || datum.value == 100", "value": [7, 117, 7]}, "value": [3.5, 124, 3.5]}, "labels": false, "title": null, "zindex": 1}}, "x2": {"field": "hi"}}},
      {"data": {"name": "zones"}, "transform": [{"filter": "datum.cluster == 'NGC6362' && datum.zone == 'outer'"}], "mark": {"type": "rect", "fill": "#c4eeee", "clip": true}, "encoding": {"x": {"field": "lo", "type": "quantitative", "scale": {"type": "log", "domain": [3, 300], "nice": false}}, "x2": {"field": "hi"}}},
      {"data": {"name": "marks"}, "transform": [{"filter": "datum.cluster == 'NGC6362' && (datum.bin == 'tl' || datum.bin == 'tr')"}], "mark": {"type": "point", "filled": false, "size": 420, "strokeWidth": 1.3, "clip": true}, "encoding": {"x": {"field": "R", "type": "quantitative", "scale": {"type": "log", "domain": [3, 300], "nice": false}}, "y": {"field": "f", "type": "quantitative", "scale": {"domain": [-2, 24.7], "nice": false, "zero": false}}, "shape": {"field": "bin", "type": "nominal", "scale": {"domain": ["sq", "pent", "circ", "tl", "tr"], "range": ["square", "M0,-1L0.951,-0.309L0.588,0.809L-0.588,0.809L-0.951,-0.309Z", "circle", "triangle-left", "triangle-right"]}, "legend": null}, "color": {"field": "set", "type": "nominal", "scale": {"domain": ["A", "B", "C"], "range": ["#ff4500", "#c42a2a", "#ff0000"]}, "legend": null}}},
      {"data": {"name": "marks"}, "transform": [{"filter": "datum.cluster == 'NGC6362' && datum.bin != 'tl' && datum.bin != 'tr'"}], "mark": {"type": "point", "filled": true, "size": 330, "opacity": 0.9, "strokeWidth": 0, "clip": true}, "encoding": {"x": {"field": "R", "type": "quantitative", "scale": {"type": "log", "domain": [3, 300], "nice": false}}, "y": {"field": "f", "type": "quantitative", "scale": {"domain": [-2, 24.7], "nice": false, "zero": false}, "axis": {"values": [0, 5, 10, 15, 20], "gridDash": [6, 158.5, 6], "labels": false, "title": null, "zindex": 1}}, "shape": {"field": "bin", "type": "nominal", "scale": {"domain": ["sq", "pent", "circ", "tl", "tr"], "range": ["square", "M0,-1L0.951,-0.309L0.588,0.809L-0.588,0.809L-0.951,-0.309Z", "circle", "triangle-left", "triangle-right"]}, "legend": null}, "color": {"field": "set", "type": "nominal", "scale": {"domain": ["A", "B", "C"], "range": ["#ff4500", "#c42a2a", "#ff0000"]}, "legend": null}}},
      {"data": {"name": "levels"}, "transform": [{"filter": "datum.cluster == 'NGC6362' && isValid(datum.lo)"}], "mark": {"type": "rect", "fill": "#808080", "opacity": 0.5, "clip": true}, "encoding": {"y": {"field": "lo", "type": "quantitative", "scale": {"domain": [-2, 24.7], "nice": false, "zero": false}}, "y2": {"field": "hi"}}},
      {"data": {"name": "levels"}, "transform": [{"filter": "datum.cluster == 'NGC6362'"}], "mark": {"type": "rule", "color": "#ff0000", "strokeWidth": 1.3}, "encoding": {"y": {"field": "level", "type": "quantitative", "scale": {"domain": [-2, 24.7], "nice": false, "zero": false}}}},
      {"data": {"name": "zones"}, "transform": [{"filter": "datum.cluster == 'NGC6362' && datum.zone == 'outer'"}], "mark": {"type": "rule", "color": "#0000ff", "strokeWidth": 2, "strokeDash": [2, 3]}, "encoding": {"x": {"field": "lo", "type": "quantitative", "scale": {"type": "log", "domain": [3, 300], "nice": false}}}},
      {"data": {"name": "zones"}, "transform": [{"filter": "datum.cluster == 'NGC6362' && datum.zone == 'outer'"}], "mark": {"type": "rule", "color": "#008000", "strokeWidth": 3, "strokeDash": [7, 4.5]}, "encoding": {"x": {"field": "hi", "type": "quantitative", "scale": {"type": "log", "domain": [3, 300], "nice": false}}}},
      {"data": {"name": "zones"}, "transform": [{"filter": "datum.cluster == 'NGC6362' && datum.zone == 'outer'"}], "mark": {"type": "text", "align": "left", "baseline": "middle", "font": "DejaVu Sans", "fontSize": 17, "color": "#008000"}, "encoding": {"x": {"datum": 3.43, "type": "quantitative", "scale": {"type": "log", "domain": [3, 300], "nice": false}}, "y": {"datum": 21.4, "type": "quantitative", "scale": {"domain": [-2, 24.7], "nice": false, "zero": false}}, "text": {"field": "cluster"}}}
    ]},
    {"width": 170.5, "height": 131, "layer": [
      {"data": {"name": "zones"}, "transform": [{"filter": "datum.cluster == 'NGC6624' && datum.zone == 'inner'"}], "mark": {"type": "rect", "fill": "#fffcc8", "clip": true}, "encoding": {"x": {"field": "lo", "type": "quantitative", "scale": {"type": "log", "domain": [3, 300], "nice": false}, "axis": {"values": [4,5,6,7,8,9,10,20,30,40,50,60,70,80,90,100,200], "gridDash": {"condition": {"test": "datum.value == 10 || datum.value == 100", "value": [7, 117, 7]}, "value": [3.5, 124, 3.5]}, "labels": false, "title": null, "zindex": 1}}, "x2": {"field": "hi"}}},
      {"data": {"name": "zones"}, "transform": [{"filter": "datum.cluster == 'NGC6624' && datum.zone == 'outer'"}], "mark": {"type": "rect", "fill": "#c4eeee", "clip": true}, "encoding": {"x": {"field": "lo", "type": "quantitative", "scale": {"type": "log", "domain": [3, 300], "nice": false}}, "x2": {"field": "hi"}}},
      {"data": {"name": "marks"}, "transform": [{"filter": "datum.cluster == 'NGC6624' && (datum.bin == 'tl' || datum.bin == 'tr')"}], "mark": {"type": "point", "filled": false, "size": 420, "strokeWidth": 1.3, "clip": true}, "encoding": {"x": {"field": "R", "type": "quantitative", "scale": {"type": "log", "domain": [3, 300], "nice": false}}, "y": {"field": "f", "type": "quantitative", "scale": {"domain": [-2, 24.7], "nice": false, "zero": false}}, "shape": {"field": "bin", "type": "nominal", "scale": {"domain": ["sq", "pent", "circ", "tl", "tr"], "range": ["square", "M0,-1L0.951,-0.309L0.588,0.809L-0.588,0.809L-0.951,-0.309Z", "circle", "triangle-left", "triangle-right"]}, "legend": null}, "color": {"field": "set", "type": "nominal", "scale": {"domain": ["A", "B", "C"], "range": ["#ff4500", "#c42a2a", "#ff0000"]}, "legend": null}}},
      {"data": {"name": "marks"}, "transform": [{"filter": "datum.cluster == 'NGC6624' && datum.bin != 'tl' && datum.bin != 'tr'"}], "mark": {"type": "point", "filled": true, "size": 330, "opacity": 0.9, "strokeWidth": 0, "clip": true}, "encoding": {"x": {"field": "R", "type": "quantitative", "scale": {"type": "log", "domain": [3, 300], "nice": false}}, "y": {"field": "f", "type": "quantitative", "scale": {"domain": [-2, 24.7], "nice": false, "zero": false}, "axis": {"values": [0, 5, 10, 15, 20], "gridDash": [6, 158.5, 6], "labels": false, "title": null, "zindex": 1}}, "shape": {"field": "bin", "type": "nominal", "scale": {"domain": ["sq", "pent", "circ", "tl", "tr"], "range": ["square", "M0,-1L0.951,-0.309L0.588,0.809L-0.588,0.809L-0.951,-0.309Z", "circle", "triangle-left", "triangle-right"]}, "legend": null}, "color": {"field": "set", "type": "nominal", "scale": {"domain": ["A", "B", "C"], "range": ["#ff4500", "#c42a2a", "#ff0000"]}, "legend": null}}},
      {"data": {"name": "levels"}, "transform": [{"filter": "datum.cluster == 'NGC6624' && isValid(datum.lo)"}], "mark": {"type": "rect", "fill": "#808080", "opacity": 0.5, "clip": true}, "encoding": {"y": {"field": "lo", "type": "quantitative", "scale": {"domain": [-2, 24.7], "nice": false, "zero": false}}, "y2": {"field": "hi"}}},
      {"data": {"name": "levels"}, "transform": [{"filter": "datum.cluster == 'NGC6624'"}], "mark": {"type": "rule", "color": "#ff0000", "strokeWidth": 1.3}, "encoding": {"y": {"field": "level", "type": "quantitative", "scale": {"domain": [-2, 24.7], "nice": false, "zero": false}}}},
      {"data": {"name": "zones"}, "transform": [{"filter": "datum.cluster == 'NGC6624' && datum.zone == 'outer'"}], "mark": {"type": "rule", "color": "#0000ff", "strokeWidth": 2, "strokeDash": [2, 3]}, "encoding": {"x": {"field": "lo", "type": "quantitative", "scale": {"type": "log", "domain": [3, 300], "nice": false}}}},
      {"data": {"name": "zones"}, "transform": [{"filter": "datum.cluster == 'NGC6624' && datum.zone == 'outer'"}], "mark": {"type": "rule", "color": "#008000", "strokeWidth": 3, "strokeDash": [7, 4.5]}, "encoding": {"x": {"field": "hi", "type": "quantitative", "scale": {"type": "log", "domain": [3, 300], "nice": false}}}},
      {"data": {"name": "zones"}, "transform": [{"filter": "datum.cluster == 'NGC6624' && datum.zone == 'outer'"}], "mark": {"type": "text", "align": "left", "baseline": "middle", "font": "DejaVu Sans", "fontSize": 17, "color": "#008000"}, "encoding": {"x": {"datum": 3.43, "type": "quantitative", "scale": {"type": "log", "domain": [3, 300], "nice": false}}, "y": {"datum": 21.4, "type": "quantitative", "scale": {"domain": [-2, 24.7], "nice": false, "zero": false}}, "text": {"field": "cluster"}}}
    ]},
    {"width": 170.5, "height": 131, "layer": [
      {"data": {"name": "zones"}, "transform": [{"filter": "datum.cluster == 'NGC6637' && datum.zone == 'inner'"}], "mark": {"type": "rect", "fill": "#fffcc8", "clip": true}, "encoding": {"x": {"field": "lo", "type": "quantitative", "scale": {"type": "log", "domain": [3, 300], "nice": false}, "axis": {"values": [4,5,6,7,8,9,10,20,30,40,50,60,70,80,90,100,200], "gridDash": {"condition": {"test": "datum.value == 10 || datum.value == 100", "value": [7, 117, 7]}, "value": [3.5, 124, 3.5]}, "labels": false, "title": null, "zindex": 1}}, "x2": {"field": "hi"}}},
      {"data": {"name": "zones"}, "transform": [{"filter": "datum.cluster == 'NGC6637' && datum.zone == 'outer'"}], "mark": {"type": "rect", "fill": "#c4eeee", "clip": true}, "encoding": {"x": {"field": "lo", "type": "quantitative", "scale": {"type": "log", "domain": [3, 300], "nice": false}}, "x2": {"field": "hi"}}},
      {"data": {"name": "marks"}, "transform": [{"filter": "datum.cluster == 'NGC6637' && (datum.bin == 'tl' || datum.bin == 'tr')"}], "mark": {"type": "point", "filled": false, "size": 420, "strokeWidth": 1.3, "clip": true}, "encoding": {"x": {"field": "R", "type": "quantitative", "scale": {"type": "log", "domain": [3, 300], "nice": false}}, "y": {"field": "f", "type": "quantitative", "scale": {"domain": [-2, 24.7], "nice": false, "zero": false}}, "shape": {"field": "bin", "type": "nominal", "scale": {"domain": ["sq", "pent", "circ", "tl", "tr"], "range": ["square", "M0,-1L0.951,-0.309L0.588,0.809L-0.588,0.809L-0.951,-0.309Z", "circle", "triangle-left", "triangle-right"]}, "legend": null}, "color": {"field": "set", "type": "nominal", "scale": {"domain": ["A", "B", "C"], "range": ["#ff4500", "#c42a2a", "#ff0000"]}, "legend": null}}},
      {"data": {"name": "marks"}, "transform": [{"filter": "datum.cluster == 'NGC6637' && datum.bin != 'tl' && datum.bin != 'tr'"}], "mark": {"type": "point", "filled": true, "size": 330, "opacity": 0.9, "strokeWidth": 0, "clip": true}, "encoding": {"x": {"field": "R", "type": "quantitative", "scale": {"type": "log", "domain": [3, 300], "nice": false}}, "y": {"field": "f", "type": "quantitative", "scale": {"domain": [-2, 24.7], "nice": false, "zero": false}, "axis": {"values": [0, 5, 10, 15, 20], "gridDash": [6, 158.5, 6], "title": "𝑓 (%)", "zindex": 1}}, "shape": {"field": "bin", "type": "nominal", "scale": {"domain": ["sq", "pent", "circ", "tl", "tr"], "range": ["square", "M0,-1L0.951,-0.309L0.588,0.809L-0.588,0.809L-0.951,-0.309Z", "circle", "triangle-left", "triangle-right"]}, "legend": null}, "color": {"field": "set", "type": "nominal", "scale": {"domain": ["A", "B", "C"], "range": ["#ff4500", "#c42a2a", "#ff0000"]}, "legend": null}}},
      {"data": {"name": "levels"}, "transform": [{"filter": "datum.cluster == 'NGC6637' && isValid(datum.lo)"}], "mark": {"type": "rect", "fill": "#808080", "opacity": 0.5, "clip": true}, "encoding": {"y": {"field": "lo", "type": "quantitative", "scale": {"domain": [-2, 24.7], "nice": false, "zero": false}}, "y2": {"field": "hi"}}},
      {"data": {"name": "levels"}, "transform": [{"filter": "datum.cluster == 'NGC6637'"}], "mark": {"type": "rule", "color": "#ff0000", "strokeWidth": 1.3}, "encoding": {"y": {"field": "level", "type": "quantitative", "scale": {"domain": [-2, 24.7], "nice": false, "zero": false}}}},
      {"data": {"name": "zones"}, "transform": [{"filter": "datum.cluster == 'NGC6637' && datum.zone == 'outer'"}], "mark": {"type": "rule", "color": "#0000ff", "strokeWidth": 2, "strokeDash": [2, 3]}, "encoding": {"x": {"field": "lo", "type": "quantitative", "scale": {"type": "log", "domain": [3, 300], "nice": false}}}},
      {"data": {"name": "zones"}, "transform": [{"filter": "datum.cluster == 'NGC6637' && datum.zone == 'outer'"}], "mark": {"type": "rule", "color": "#008000", "strokeWidth": 3, "strokeDash": [7, 4.5]}, "encoding": {"x": {"field": "hi", "type": "quantitative", "scale": {"type": "log", "domain": [3, 300], "nice": false}}}},
      {"data": {"name": "zones"}, "transform": [{"filter": "datum.cluster == 'NGC6637' && datum.zone == 'outer'"}], "mark": {"type": "text", "align": "left", "baseline": "middle", "font": "DejaVu Sans", "fontSize": 17, "color": "#008000"}, "encoding": {"x": {"datum": 3.43, "type": "quantitative", "scale": {"type": "log", "domain": [3, 300], "nice": false}}, "y": {"datum": 21.4, "type": "quantitative", "scale": {"domain": [-2, 24.7], "nice": false, "zero": false}}, "text": {"field": "cluster"}}}
    ]},
    {"width": 170.5, "height": 131, "layer": [
      {"data": {"name": "zones"}, "transform": [{"filter": "datum.cluster == 'NGC6652' && datum.zone == 'inner'"}], "mark": {"type": "rect", "fill": "#fffcc8", "clip": true}, "encoding": {"x": {"field": "lo", "type": "quantitative", "scale": {"type": "log", "domain": [3, 300], "nice": false}, "axis": {"values": [4,5,6,7,8,9,10,20,30,40,50,60,70,80,90,100,200], "gridDash": {"condition": {"test": "datum.value == 10 || datum.value == 100", "value": [7, 117, 7]}, "value": [3.5, 124, 3.5]}, "labels": false, "title": null, "zindex": 1}}, "x2": {"field": "hi"}}},
      {"data": {"name": "zones"}, "transform": [{"filter": "datum.cluster == 'NGC6652' && datum.zone == 'outer'"}], "mark": {"type": "rect", "fill": "#c4eeee", "clip": true}, "encoding": {"x": {"field": "lo", "type": "quantitative", "scale": {"type": "log", "domain": [3, 300], "nice": false}}, "x2": {"field": "hi"}}},
      {"data": {"name": "marks"}, "transform": [{"filter": "datum.cluster == 'NGC6652' && (datum.bin == 'tl' || datum.bin == 'tr')"}], "mark": {"type": "point", "filled": false, "size": 420, "strokeWidth": 1.3, "clip": true}, "encoding": {"x": {"field": "R", "type": "quantitative", "scale": {"type": "log", "domain": [3, 300], "nice": false}}, "y": {"field": "f", "type": "quantitative", "scale": {"domain": [-2, 24.7], "nice": false, "zero": false}}, "shape": {"field": "bin", "type": "nominal", "scale": {"domain": ["sq", "pent", "circ", "tl", "tr"], "range": ["square", "M0,-1L0.951,-0.309L0.588,0.809L-0.588,0.809L-0.951,-0.309Z", "circle", "triangle-left", "triangle-right"]}, "legend": null}, "color": {"field": "set", "type": "nominal", "scale": {"domain": ["A", "B", "C"], "range": ["#ff4500", "#c42a2a", "#ff0000"]}, "legend": null}}},
      {"data": {"name": "marks"}, "transform": [{"filter": "datum.cluster == 'NGC6652' && datum.bin != 'tl' && datum.bin != 'tr'"}], "mark": {"type": "point", "filled": true, "size": 330, "opacity": 0.9, "strokeWidth": 0, "clip": true}, "encoding": {"x": {"field": "R", "type": "quantitative", "scale": {"type": "log", "domain": [3, 300], "nice": false}}, "y": {"field": "f", "type": "quantitative", "scale": {"domain": [-2, 24.7], "nice": false, "zero": false}, "axis": {"values": [0, 5, 10, 15, 20], "gridDash": [6, 158.5, 6], "labels": false, "title": null, "zindex": 1}}, "shape": {"field": "bin", "type": "nominal", "scale": {"domain": ["sq", "pent", "circ", "tl", "tr"], "range": ["square", "M0,-1L0.951,-0.309L0.588,0.809L-0.588,0.809L-0.951,-0.309Z", "circle", "triangle-left", "triangle-right"]}, "legend": null}, "color": {"field": "set", "type": "nominal", "scale": {"domain": ["A", "B", "C"], "range": ["#ff4500", "#c42a2a", "#ff0000"]}, "legend": null}}},
      {"data": {"name": "levels"}, "transform": [{"filter": "datum.cluster == 'NGC6652' && isValid(datum.lo)"}], "mark": {"type": "rect", "fill": "#808080", "opacity": 0.5, "clip": true}, "encoding": {"y": {"field": "lo", "type": "quantitative", "scale": {"domain": [-2, 24.7], "nice": false, "zero": false}}, "y2": {"field": "hi"}}},
      {"data": {"name": "levels"}, "transform": [{"filter": "datum.cluster == 'NGC6652'"}], "mark": {"type": "rule", "color": "#ff0000", "strokeWidth": 1.3}, "encoding": {"y": {"field": "level", "type": "quantitative", "scale": {"domain": [-2, 24.7], "nice": false, "zero": false}}}},
      {"data": {"name": "zones"}, "transform": [{"filter": "datum.cluster == 'NGC6652' && datum.zone == 'outer'"}], "mark": {"type": "rule", "color": "#0000ff", "strokeWidth": 2, "strokeDash": [2, 3]}, "encoding": {"x": {"field": "lo", "type": "quantitative", "scale": {"type": "log", "domain": [3, 300], "nice": false}}}},
      {"data": {"name": "zones"}, "transform": [{"filter": "datum.cluster == 'NGC6652' && datum.zone == 'outer'"}], "mark": {"type": "rule", "color": "#008000", "strokeWidth": 3, "strokeDash": [7, 4.5]}, "encoding": {"x": {"field": "hi", "type": "quantitative", "scale": {"type": "log", "domain": [3, 300], "nice": false}}}},
      {"data": {"name": "zones"}, "transform": [{"filter": "datum.cluster == 'NGC6652' && datum.zone == 'outer'"}], "mark": {"type": "text", "align": "left", "baseline": "middle", "font": "DejaVu Sans", "fontSize": 17, "color": "#008000"}, "encoding": {"x": {"datum": 3.43, "type": "quantitative", "scale": {"type": "log", "domain": [3, 300], "nice": false}}, "y": {"datum": 21.4, "type": "quantitative", "scale": {"domain": [-2, 24.7], "nice": false, "zero": false}}, "text": {"field": "cluster"}}}
    ]},
    {"width": 170.5, "height": 131, "layer": [
      {"data": {"name": "zones"}, "transform": [{"filter": "datum.cluster == 'NGC6723' && datum.zone == 'inner'"}], "mark": {"type": "rect", "fill": "#fffcc8", "clip": true}, "encoding": {"x": {"field": "lo", "type": "quantitative", "scale": {"type": "log", "domain": [3, 300], "nice": false}, "axis": {"values": [4,5,6,7,8,9,10,20,30,40,50,60,70,80,90,100,200], "gridDash": {"condition": {"test": "datum.value == 10 || datum.value == 100", "value": [7, 117, 7]}, "value": [3.5, 124, 3.5]}, "labels": false, "title": null, "zindex": 1}}, "x2": {"field": "hi"}}},
      {"data": {"name": "zones"}, "transform": [{"filter": "datum.cluster == 'NGC6723' && datum.zone == 'outer'"}], "mark": {"type": "rect", "fill": "#c4eeee", "clip": true}, "encoding": {"x": {"field": "lo", "type": "quantitative", "scale": {"type": "log", "domain": [3, 300], "nice": false}}, "x2": {"field": "hi"}}},
      {"data": {"name": "marks"}, "transform": [{"filter": "datum.cluster == 'NGC6723' && (datum.bin == 'tl' || datum.bin == 'tr')"}], "mark": {"type": "point", "filled": false, "size": 420, "strokeWidth": 1.3, "clip": true}, "encoding": {"x": {"field": "R", "type": "quantitative", "scale": {"type": "log", "domain": [3, 300], "nice": false}}, "y": {"field": "f", "type": "quantitative", "scale": {"domain": [-2, 24.7], "nice": false, "zero": false}}, "shape": {"field": "bin", "type": "nominal", "scale": {"domain": ["sq", "pent", "circ", "tl", "tr"], "range": ["square", "M0,-1L0.951,-0.309L0.588,0.809L-0.588,0.809L-0.951,-0.309Z", "circle", "triangle-left", "triangle-right"]}, "legend": null}, "color": {"field": "set", "type": "nominal", "scale": {"domain": ["A", "B", "C"], "range": ["#ff4500", "#c42a2a", "#ff0000"]}, "legend": null}}},
      {"data": {"name": "marks"}, "transform": [{"filter": "datum.cluster == 'NGC6723' && datum.bin != 'tl' && datum.bin != 'tr'"}], "mark": {"type": "point", "filled": true, "size": 330, "opacity": 0.9, "strokeWidth": 0, "clip": true}, "encoding": {"x": {"field": "R", "type": "quantitative", "scale": {"type": "log", "domain": [3, 300], "nice": false}}, "y": {"field": "f", "type": "quantitative", "scale": {"domain": [-2, 24.7], "nice": false, "zero": false}, "axis": {"values": [0, 5, 10, 15, 20], "gridDash": [6, 158.5, 6], "labels": false, "title": null, "zindex": 1}}, "shape": {"field": "bin", "type": "nominal", "scale": {"domain": ["sq", "pent", "circ", "tl", "tr"], "range": ["square", "M0,-1L0.951,-0.309L0.588,0.809L-0.588,0.809L-0.951,-0.309Z", "circle", "triangle-left", "triangle-right"]}, "legend": null}, "color": {"field": "set", "type": "nominal", "scale": {"domain": ["A", "B", "C"], "range": ["#ff4500", "#c42a2a", "#ff0000"]}, "legend": null}}},
      {"data": {"name": "levels"}, "transform": [{"filter": "datum.cluster == 'NGC6723'"}], "mark": {"type": "rule", "color": "#ff0000", "strokeWidth": 1.3}, "encoding": {"y": {"field": "level", "type": "quantitative", "scale": {"domain": [-2, 24.7], "nice": false, "zero": false}}}},
      {"data": {"name": "zones"}, "transform": [{"filter": "datum.cluster == 'NGC6723' && datum.zone == 'outer'"}], "mark": {"type": "rule", "color": "#0000ff", "strokeWidth": 2, "strokeDash": [2, 3]}, "encoding": {"x": {"field": "lo", "type": "quantitative", "scale": {"type": "log", "domain": [3, 300], "nice": false}}}},
      {"data": {"name": "zones"}, "transform": [{"filter": "datum.cluster == 'NGC6723' && datum.zone == 'outer'"}], "mark": {"type": "rule", "color": "#008000", "strokeWidth": 3, "strokeDash": [7, 4.5]}, "encoding": {"x": {"field": "hi", "type": "quantitative", "scale": {"type": "log", "domain": [3, 300], "nice": false}}}},
      {"data": {"name": "zones"}, "transform": [{"filter": "datum.cluster == 'NGC6723' && datum.zone == 'outer'"}], "mark": {"type": "text", "align": "left", "baseline": "middle", "font": "DejaVu Sans", "fontSize": 17, "color": "#008000"}, "encoding": {"x": {"datum": 3.43, "type": "quantitative", "scale": {"type": "log", "domain": [3, 300], "nice": false}}, "y": {"datum": 21.4, "type": "quantitative", "scale": {"domain": [-2, 24.7], "nice": false, "zero": false}}, "text": {"field": "cluster"}}}
    ]},
    {"width": 170.5, "height": 131, "layer": [
      {"data": {"name": "zones"}, "transform": [{"filter": "datum.cluster == 'NGC6752' && datum.zone == 'inner'"}], "mark": {"type": "rect", "fill": "#fffcc8", "clip": true}, "encoding": {"x": {"field": "lo", "type": "quantitative", "scale": {"type": "log", "domain": [3, 300], "nice": false}, "axis": {"values": [4,5,6,7,8,9,10,20,30,40,50,60,70,80,90,100,200], "gridDash": {"condition": {"test": "datum.value == 10 || datum.value == 100", "value": [7, 117, 7]}, "value": [3.5, 124, 3.5]}, "labelExpr": "datum.value == 10 ? '10¹' : datum.value == 100 ? '10²' : ''", "title": "𝑅 (\")", "zindex": 1}}, "x2": {"field": "hi"}}},
      {"data": {"name": "zones"}, "transform": [{"filter": "datum.cluster == 'NGC6752' && datum.zone == 'outer'"}], "mark": {"type": "rect", "fill": "#c4eeee", "clip": true}, "encoding": {"x": {"field": "lo", "type": "quantitative", "scale": {"type": "log", "domain": [3, 300], "nice": false}}, "x2": {"field": "hi"}}},
      {"data": {"name": "marks"}, "transform": [{"filter": "datum.cluster == 'NGC6752' && (datum.bin == 'tl' || datum.bin == 'tr')"}], "mark": {"type": "point", "filled": false, "size": 420, "strokeWidth": 1.3, "clip": true}, "encoding": {"x": {"field": "R", "type": "quantitative", "scale": {"type": "log", "domain": [3, 300], "nice": false}}, "y": {"field": "f", "type": "quantitative", "scale": {"domain": [-2, 24.7], "nice": false, "zero": false}, "axis": {"values": [0, 5, 10, 15, 20], "gridDash": [6, 158.5, 6], "title": "𝑓 (%)", "zindex": 1}}, "shape": {"field": "bin", "type": "nominal", "scale": {"domain": ["sq", "pent", "circ", "tl", "tr"], "range": ["square", "M0,-1L0.951,-0.309L0.588,0.809L-0.588,0.809L-0.951,-0.309Z", "circle", "triangle-left", "triangle-right"]}, "legend": null}, "color": {"field": "set", "type": "nominal", "scale": {"domain": ["A", "B", "C"], "range": ["#ff4500", "#c42a2a", "#ff0000"]}, "legend": null}}},
      {"data": {"name": "zones"}, "transform": [{"filter": "datum.cluster == 'NGC6752' && datum.zone == 'outer'"}], "mark": {"type": "rule", "color": "#0000ff", "strokeWidth": 2, "strokeDash": [2, 3]}, "encoding": {"x": {"field": "lo", "type": "quantitative", "scale": {"type": "log", "domain": [3, 300], "nice": false}}}},
      {"data": {"name": "zones"}, "transform": [{"filter": "datum.cluster == 'NGC6752' && datum.zone == 'outer'"}], "mark": {"type": "rule", "color": "#008000", "strokeWidth": 3, "strokeDash": [7, 4.5]}, "encoding": {"x": {"field": "hi", "type": "quantitative", "scale": {"type": "log", "domain": [3, 300], "nice": false}}}},
      {"data": {"name": "zones"}, "transform": [{"filter": "datum.cluster == 'NGC6752' && datum.zone == 'outer'"}], "mark": {"type": "text", "align": "left", "baseline": "middle", "font": "DejaVu Sans", "fontSize": 17, "color": "#008000"}, "encoding": {"x": {"datum": 3.43, "type": "quantitative", "scale": {"type": "log", "domain": [3, 300], "nice": false}}, "y": {"datum": 21.4, "type": "quantitative", "scale": {"domain": [-2, 24.7], "nice": false, "zero": false}}, "text": {"field": "cluster"}}}
    ]},
    {"width": 170.5, "height": 131, "layer": [
      {"data": {"name": "zones"}, "transform": [{"filter": "datum.cluster == 'NGC7078' && datum.zone == 'inner'"}], "mark": {"type": "rect", "fill": "#fffcc8", "clip": true}, "encoding": {"x": {"field": "lo", "type": "quantitative", "scale": {"type": "log", "domain": [3, 300], "nice": false}, "axis": {"values": [4,5,6,7,8,9,10,20,30,40,50,60,70,80,90,100,200], "gridDash": {"condition": {"test": "datum.value == 10 || datum.value == 100", "value": [7, 117, 7]}, "value": [3.5, 124, 3.5]}, "labelExpr": "datum.value == 10 ? '10¹' : datum.value == 100 ? '10²' : ''", "title": "𝑅 (\")", "zindex": 1}}, "x2": {"field": "hi"}}},
      {"data": {"name": "zones"}, "transform": [{"filter": "datum.cluster == 'NGC7078' && datum.zone == 'outer'"}], "mark": {"type": "rect", "fill": "#c4eeee", "clip": true}, "encoding": {"x": {"field": "lo", "type": "quantitative", "scale": {"type": "log", "domain": [3, 300], "nice": false}}, "x2": {"field": "hi"}}},
      {"data": {"name": "marks"}, "transform": [{"filter": "datum.cluster == 'NGC7078' && (datum.bin == 'tl' || datum.bin == 'tr')"}], "mark": {"type": "point", "filled": false, "size": 420, "strokeWidth": 1.3, "clip": true}, "encoding": {"x": {"field": "R", "type": "quantitative", "scale": {"type": "log", "domain": [3, 300], "nice": false}}, "y": {"field": "f", "type": "quantitative", "scale": {"domain": [-2, 24.7], "nice": false, "zero": false}}, "shape": {"field": "bin", "type": "nominal", "scale": {"domain": ["sq", "pent", "circ", "tl", "tr"], "range": ["square", "M0,-1L0.951,-0.309L0.588,0.809L-0.588,0.809L-0.951,-0.309Z", "circle", "triangle-left", "triangle-right"]}, "legend": null}, "color": {"field": "set", "type": "nominal", "scale": {"domain": ["A", "B", "C"], "range": ["#ff4500", "#c42a2a", "#ff0000"]}, "legend": null}}},
      {"data": {"name": "marks"}, "transform": [{"filter": "datum.cluster == 'NGC7078' && datum.bin != 'tl' && datum.bin != 'tr'"}], "mark": {"type": "point", "filled": true, "size": 330, "opacity": 0.9, "strokeWidth": 0, "clip": true}, "encoding": {"x": {"field": "R", "type": "quantitative", "scale": {"type": "log", "domain": [3, 300], "nice": false}}, "y": {"field": "f", "type": "quantitative", "scale": {"domain": [-2, 24.7], "nice": false, "zero": false}, "axis": {"values": [0, 5, 10, 15, 20], "gridDash": [6, 158.5, 6], "labels": false, "title": null, "zindex": 1}}, "shape": {"field": "bin", "type": "nominal", "scale": {"domain": ["sq", "pent", "circ", "tl", "tr"], "range": ["square", "M0,-1L0.951,-0.309L0.588,0.809L-0.588,0.809L-0.951,-0.309Z", "circle", "triangle-left", "triangle-right"]}, "legend": null}, "color": {"field": "set", "type": "nominal", "scale": {"domain": ["A", "B", "C"], "range": ["#ff4500", "#c42a2a", "#ff0000"]}, "legend": null}}},
      {"data": {"name": "levels"}, "transform": [{"filter": "datum.cluster == 'NGC7078' && isValid(datum.lo)"}], "mark": {"type": "rect", "fill": "#808080", "opacity": 0.5, "clip": true}, "encoding": {"y": {"field": "lo", "type": "quantitative", "scale": {"domain": [-2, 24.7], "nice": false, "zero": false}}, "y2": {"field": "hi"}}},
      {"data": {"name": "levels"}, "transform": [{"filter": "datum.cluster == 'NGC7078'"}], "mark": {"type": "rule", "color": "#ff0000", "strokeWidth": 1.3}, "encoding": {"y": {"field": "level", "type": "quantitative", "scale": {"domain": [-2, 24.7], "nice": false, "zero": false}}}},
      {"data": {"name": "zones"}, "transform": [{"filter": "datum.cluster == 'NGC7078' && datum.zone == 'outer'"}], "mark": {"type": "rule", "color": "#0000ff", "strokeWidth": 2, "strokeDash": [2, 3]}, "encoding": {"x": {"field": "lo", "type": "quantitative", "scale": {"type": "log", "domain": [3, 300], "nice": false}}}},
      {"data": {"name": "zones"}, "transform": [{"filter": "datum.cluster == 'NGC7078' && datum.zone == 'outer'"}], "mark": {"type": "rule", "color": "#008000", "strokeWidth": 3, "strokeDash": [7, 4.5]}, "encoding": {"x": {"field": "hi", "type": "quantitative", "scale": {"type": "log", "domain": [3, 300], "nice": false}}}},
      {"data": {"name": "zones"}, "transform": [{"filter": "datum.cluster == 'NGC7078' && datum.zone == 'outer'"}], "mark": {"type": "text", "align": "left", "baseline": "middle", "font": "DejaVu Sans", "fontSize": 17, "color": "#008000"}, "encoding": {"x": {"datum": 3.43, "type": "quantitative", "scale": {"type": "log", "domain": [3, 300], "nice": false}}, "y": {"datum": 21.4, "type": "quantitative", "scale": {"domain": [-2, 24.7], "nice": false, "zero": false}}, "text": {"field": "cluster"}}}
    ]},
    {"width": 170.5, "height": 131, "layer": [
      {"data": {"name": "zones"}, "transform": [{"filter": "datum.cluster == 'NGC2808' && datum.zone == 'inner'"}], "mark": {"type": "rect", "fill": "#fffcc8", "clip": true}, "encoding": {"x": {"field": "lo", "type": "quantitative", "scale": {"type": "log", "domain": [3, 300], "nice": false}, "axis": {"values": [4,5,6,7,8,9,10,20,30,40,50,60,70,80,90,100,200], "gridDash": {"condition": {"test": "datum.value == 10 || datum.value == 100", "value": [7, 117, 7]}, "value": [3.5, 124, 3.5]}, "labelExpr": "datum.value == 10 ? '10¹' : datum.value == 100 ? '10²' : ''", "title": "𝑅 (\")", "zindex": 1}}, "x2": {"field": "hi"}}},
      {"data": {"name": "zones"}, "transform": [{"filter": "datum.cluster == 'NGC2808' && datum.zone == 'outer'"}], "mark": {"type": "rect", "fill": "#c4eeee", "clip": true}, "encoding": {"x": {"field": "lo", "type": "quantitative", "scale": {"type": "log", "domain": [3, 300], "nice": false}}, "x2": {"field": "hi"}}},
      {"data": {"name": "marks"}, "transform": [{"filter": "datum.cluster == 'NGC2808' && (datum.bin == 'tl' || datum.bin == 'tr')"}], "mark": {"type": "point", "filled": false, "size": 420, "strokeWidth": 1.3, "clip": true}, "encoding": {"x": {"field": "R", "type": "quantitative", "scale": {"type": "log", "domain": [3, 300], "nice": false}}, "y": {"field": "f", "type": "quantitative", "scale": {"domain": [-2, 24.7], "nice": false, "zero": false}}, "shape": {"field": "bin", "type": "nominal", "scale": {"domain": ["sq", "pent", "circ", "tl", "tr"], "range": ["square", "M0,-1L0.951,-0.309L0.588,0.809L-0.588,0.809L-0.951,-0.309Z", "circle", "triangle-left", "triangle-right"]}, "legend": null}, "color": {"field": "set", "type": "nominal", "scale": {"domain": ["A", "B", "C"], "range": ["#ff4500", "#c42a2a", "#ff0000"]}, "legend": null}}},
      {"data": {"name": "marks"}, "transform": [{"filter": "datum.cluster == 'NGC2808' && datum.bin != 'tl' && datum.bin != 'tr'"}], "mark": {"type": "point", "filled": true, "size": 330, "opacity": 0.9, "strokeWidth": 0, "clip": true}, "encoding": {"x": {"field": "R", "type": "quantitative", "scale": {"type": "log", "domain": [3, 300], "nice": false}}, "y": {"field": "f", "type": "quantitative", "scale": {"domain": [-2, 24.7], "nice": false, "zero": false}, "axis": {"values": [0, 5, 10, 15, 20], "gridDash": [6, 158.5, 6], "labels": false, "title": null, "zindex": 1}}, "shape": {"field": "bin", "type": "nominal", "scale": {"domain": ["sq", "pent", "circ", "tl", "tr"], "range": ["square", "M0,-1L0.951,-0.309L0.588,0.809L-0.588,0.809L-0.951,-0.309Z", "circle", "triangle-left", "triangle-right"]}, "legend": null}, "color": {"field": "set", "type": "nominal", "scale": {"domain": ["A", "B", "C"], "range": ["#ff4500", "#c42a2a", "#ff0000"]}, "legend": null}}},
      {"data": {"name": "zones"}, "transform": [{"filter": "datum.cluster == 'NGC2808' && datum.zone == 'outer'"}], "mark": {"type": "rule", "color": "#0000ff", "strokeWidth": 2, "strokeDash": [2, 3]}, "encoding": {"x": {"field": "lo", "type": "quantitative", "scale": {"type": "log", "domain": [3, 300], "nice": false}}}},
      {"data": {"name": "zones"}, "transform": [{"filter": "datum.cluster == 'NGC2808' && datum.zone == 'outer'"}], "mark": {"type": "rule", "color": "#008000", "strokeWidth": 3, "strokeDash": [7, 4.5]}, "encoding": {"x": {"field": "hi", "type": "quantitative", "scale": {"type": "log", "domain": [3, 300], "nice": false}}}},
      {"data": {"name": "zones"}, "transform": [{"filter": "datum.cluster == 'NGC2808' && datum.zone == 'outer'"}], "mark": {"type": "text", "align": "left", "baseline": "middle", "font": "DejaVu Sans", "fontSize": 17, "color": "#008000"}, "encoding": {"x": {"datum": 3.43, "type": "quantitative", "scale": {"type": "log", "domain": [3, 300], "nice": false}}, "y": {"datum": 21.4, "type": "quantitative", "scale": {"domain": [-2, 24.7], "nice": false, "zero": false}}, "text": {"field": "cluster"}}}
    ]}
  ]
}
